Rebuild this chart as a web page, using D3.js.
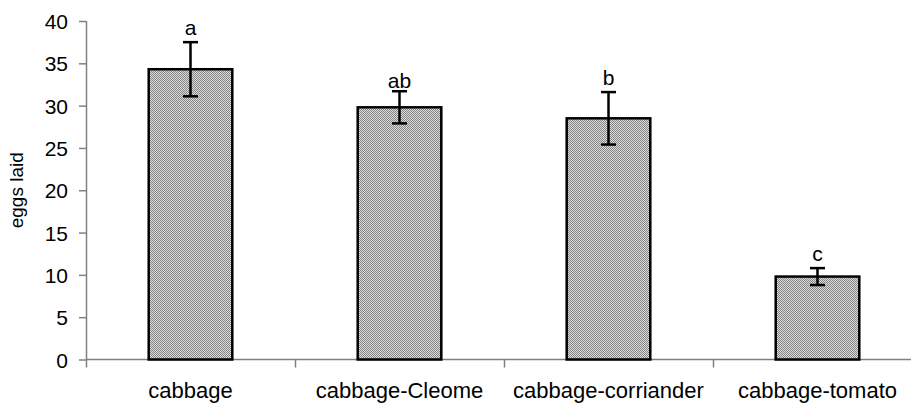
<!DOCTYPE html>
<html>
<head>
<meta charset="utf-8">
<script src="https://cdn.jsdelivr.net/npm/d3@7"></script>
<style>
  html, body { margin: 0; padding: 0; background: #fff; }
  text { font-family: "Liberation Sans", Arial, sans-serif; fill: #000; }
</style>
</head>
<body>
<svg id="chart" width="911" height="405"></svg>
<script>
// Mean eggs laid per treatment, with standard error and significance letters
const categories = ["cabbage", "cabbage-Cleome", "cabbage-corriander", "cabbage-tomato"];
const means = [34.3, 29.8, 28.5, 9.8];
const errors = [3.2, 1.9, 3.1, 1.0];
const letters = ["a", "ab", "b", "c"];
const yTicks = [0, 5, 10, 15, 20, 25, 30, 35, 40];

const svg = d3.select("#chart");
const x0 = 86, yBottom = 359.5, yTop = 21;
const step = 209;

const x = d3.scaleBand()
  .domain(categories)
  .range([x0, x0 + step * categories.length])
  .paddingInner(0.6)
  .paddingOuter(0.3);

const y = d3.scaleLinear().domain([0, 40]).range([yBottom, yTop]);

// checkered grey fill for the bars
const defs = svg.append("defs");
const pat = defs.append("pattern")
  .attr("id", "dots")
  .attr("patternUnits", "userSpaceOnUse")
  .attr("width", 2).attr("height", 2);
pat.append("rect").attr("width", 2).attr("height", 2).attr("fill", "#dcdcdc");
pat.append("rect").attr("x", 0).attr("y", 0).attr("width", 1).attr("height", 1).attr("fill", "#858585");
pat.append("rect").attr("x", 1).attr("y", 1).attr("width", 1).attr("height", 1).attr("fill", "#858585");

// y axis
const yAxis = svg.append("g")
  .attr("transform", `translate(${x0},0)`)
  .call(d3.axisLeft(y).tickValues(yTicks).tickSize(7).tickPadding(11));
yAxis.select(".domain").attr("stroke", "#808080").attr("stroke-width", 1.5)
  .attr("d", `M0.5,${yTop}V${yBottom}`);
yAxis.selectAll(".tick line").attr("stroke", "#808080").attr("stroke-width", 1.5);
yAxis.selectAll(".tick text")
  .style("font-size", "21px")
  .attr("dy", "0.36em");

// x axis baseline with category boundary ticks
const xAxisG = svg.append("g");
xAxisG.append("line")
  .attr("x1", x0).attr("x2", 911)
  .attr("y1", yBottom).attr("y2", yBottom)
  .attr("stroke", "#808080").attr("stroke-width", 1.5);
const bounds = d3.range(categories.length + 1).map(i => x0 + i * step);
xAxisG.selectAll("line.bt").data(bounds).join("line")
  .attr("class", "bt")
  .attr("x1", d => d + 0.5).attr("x2", d => d + 0.5)
  .attr("y1", yBottom).attr("y2", yBottom + 8)
  .attr("stroke", "#808080").attr("stroke-width", 1.5);

xAxisG.selectAll("text.cat").data(categories).join("text")
  .attr("class", "cat")
  .attr("x", d => x(d) + x.bandwidth() / 2)
  .attr("y", 398)
  .attr("text-anchor", "middle")
  .style("font-size", "22px")
  .text(d => d);

// y axis title
svg.append("text")
  .attr("transform", `translate(23,${(yTop + yBottom) / 2}) rotate(-90)`)
  .attr("text-anchor", "middle")
  .style("font-size", "19px")
  .text("eggs laid");

// bars
svg.selectAll("rect.bar").data(categories).join("rect")
  .attr("class", "bar")
  .attr("x", d => x(d))
  .attr("y", (d, i) => y(means[i]))
  .attr("width", x.bandwidth())
  .attr("height", (d, i) => yBottom - y(means[i]))
  .attr("fill", "url(#dots)")
  .attr("stroke", "#000")
  .attr("stroke-width", 2.5);

// error bars
const eb = svg.selectAll("g.err").data(categories).join("g").attr("class", "err");
eb.append("line")
  .attr("x1", d => x(d) + x.bandwidth() / 2).attr("x2", d => x(d) + x.bandwidth() / 2)
  .attr("y1", (d, i) => y(means[i] + errors[i]))
  .attr("y2", (d, i) => y(means[i] - errors[i]))
  .attr("stroke", "#000").attr("stroke-width", 2.5);
[1, -1].forEach(s => {
  eb.append("line")
    .attr("x1", d => x(d) + x.bandwidth() / 2 - 7.5)
    .attr("x2", d => x(d) + x.bandwidth() / 2 + 7.5)
    .attr("y1", (d, i) => y(means[i] + s * errors[i]))
    .attr("y2", (d, i) => y(means[i] + s * errors[i]))
    .attr("stroke", "#000").attr("stroke-width", 2.5);
});

// significance letters
svg.selectAll("text.sig").data(categories).join("text")
  .attr("class", "sig")
  .attr("x", d => x(d) + x.bandwidth() / 2)
  .attr("y", (d, i) => y(means[i] + errors[i]) - (letters[i] === "ab" ? 3 : 7))
  .attr("text-anchor", "middle")
  .style("font-size", "21px")
  .text((d, i) => letters[i]);
</script>
</body>
</html>
